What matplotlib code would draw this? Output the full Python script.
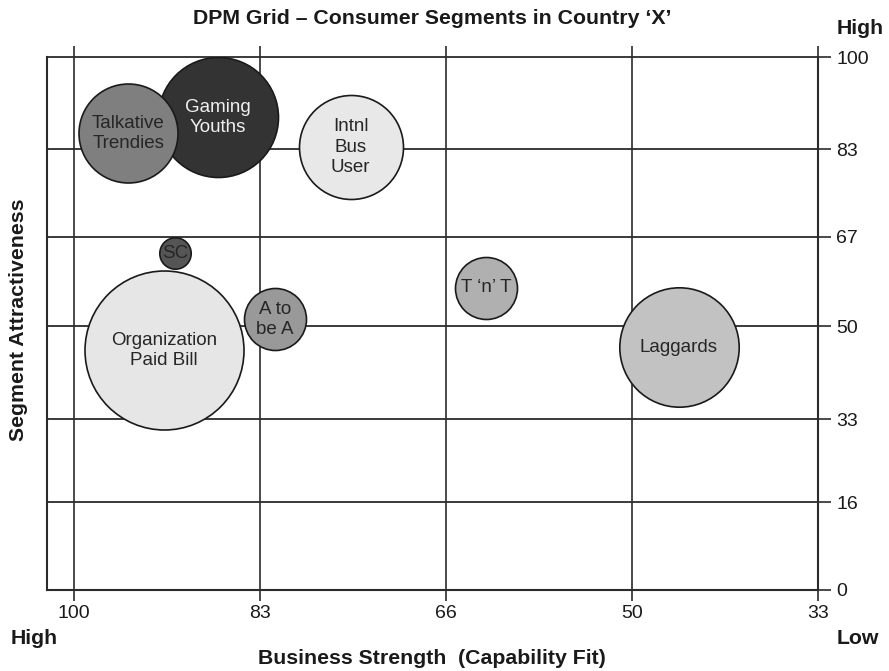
import matplotlib
matplotlib.use("Agg")
import matplotlib.pyplot as plt

plt.rcParams['font.family'] = ['Liberation Sans', 'DejaVu Sans']

# ---- data ----
segments = ["Gaming\nYouths", "Talkative\nTrendies", "Intnl\nBus\nUser", "SC",
            "Organization\nPaid Bill", "A to\nbe A", "T \u2018n\u2019 T", "Laggards"]
business_strength = [87.1, 95.1, 75.2, 90.9, 91.9, 82.0, 63.05, 45.8]
attractiveness = [88.7, 85.7, 83.1, 63.2, 45.0, 50.8, 56.7, 45.5]
bubble_radius = [60.0, 49.5, 52.0, 15.7, 79.5, 31.0, 31.0, 59.7]
fill_colors = ["#333333", "#7f7f7f", "#e8e8e8", "#555555",
               "#e6e6e6", "#999999", "#b0b0b0", "#c2c2c2"]
text_colors = ["#f0f0f0", "#262626", "#262626", "#262626",
               "#262626", "#262626", "#262626", "#262626"]

x_tick_values = [100, 83.33, 66.67, 50, 33.33]
x_tick_labels = ["100", "83", "66", "50", "33"]
y_tick_values = [0, 16.5, 32, 49.5, 66.3, 82.7, 100]
y_tick_labels = ["0", "16", "33", "50", "67", "83", "100"]

title = "DPM Grid \u2013 Consumer Segments in Country \u2018X\u2019"
x_label = "Business Strength  (Capability Fit)"
y_label = "Segment Attractiveness"

W, H = 889, 671
fig = plt.figure(figsize=(W / 100, H / 100), dpi=100)
L, R, T, B = 47, 818, 57, 590
ax = fig.add_axes([L / W, 1 - B / H, (R - L) / W, (B - T) / H])

ax.set_xlim(102.4, 33.33)
ax.set_ylim(0, 100)

line_col = "#2b2b2b"
for v in x_tick_values:
    ax.axvline(v, color=line_col, lw=1.2, zorder=1)
for v in y_tick_values:
    ax.axhline(v, color=line_col, lw=1.3, zorder=1, clip_on=False)

for i, (lab, x, y, r, fc, tc) in enumerate(zip(segments, business_strength,
                                                attractiveness, bubble_radius,
                                                fill_colors, text_colors)):
    ax.scatter([x], [y], s=[(2 * r * 72 / 100) ** 2], c=[fc],
               edgecolors="#1a1a1a", linewidths=1.2, zorder=3 + i)
    ax.text(x, y, lab, ha="center", va="center", fontsize=13.5, color=tc,
            linespacing=1.25, zorder=20)

# ticks
ax.set_xticks(x_tick_values)
ax.set_xticklabels(x_tick_labels)
ax.set_yticks(y_tick_values)
ax.set_yticklabels(y_tick_labels)
ax.tick_params(axis="x", which="both", direction="out", length=8, width=1.2,
               color=line_col, top=True, bottom=True, labeltop=False,
               labelbottom=True, labelsize=14, pad=3, labelcolor="#1a1a1a")
ax.tick_params(axis="y", which="both", direction="out", length=9, width=1.2,
               color=line_col, left=False, right=True, labelleft=False,
               labelright=True, labelsize=14, pad=4, labelcolor="#1a1a1a")

for side in ["left", "right", "bottom"]:
    ax.spines[side].set_color(line_col)
    ax.spines[side].set_linewidth(1.5)
ax.spines["top"].set_visible(False)

# texts
bold = dict(fontsize=15.3, fontweight="bold", color="#1a1a1a",
            ha="center", va="center")
fig.text(432 / W, 1 - 18 / H, title, **bold)
fig.text(860 / W, 1 - 29 / H, "High", **bold)
fig.text(34 / W, 1 - 638 / H, "High", **bold)
fig.text(858 / W, 1 - 638 / H, "Low", **bold)
fig.text(432 / W, 1 - 659 / H, x_label, **bold)
fig.text(19 / W, 1 - 320 / H, y_label, rotation=90, **bold)

fig.savefig("out.png", dpi=100)
